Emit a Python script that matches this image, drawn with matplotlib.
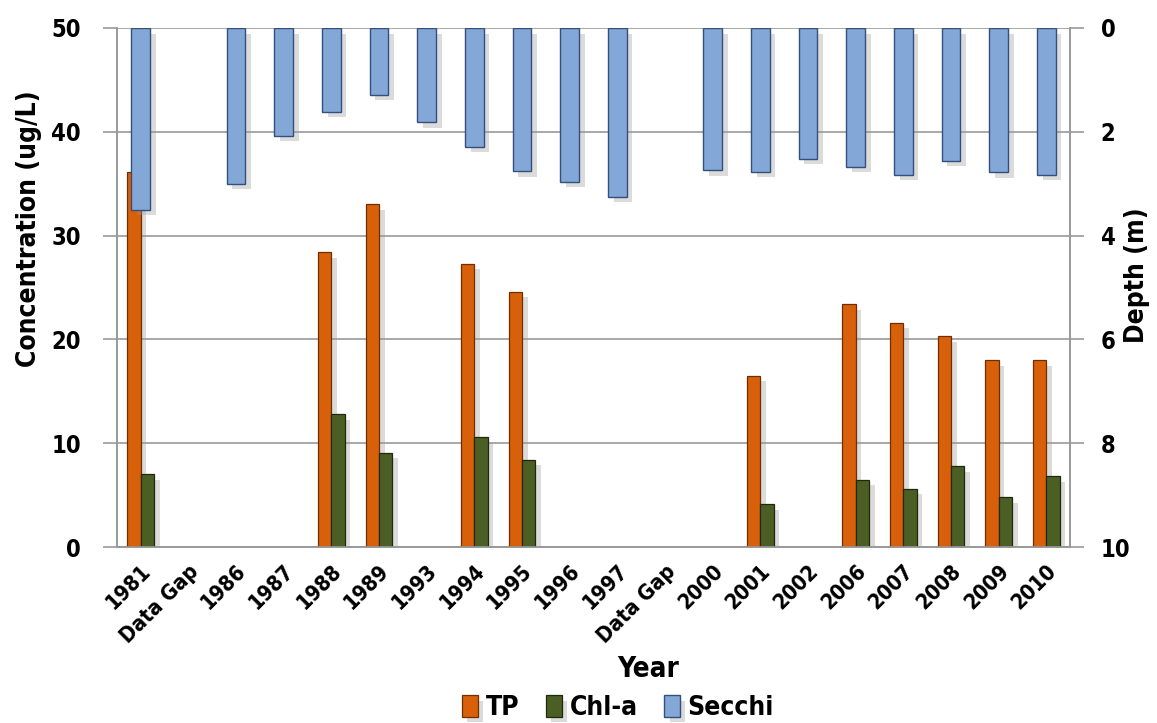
import numpy as np
import matplotlib
matplotlib.use('Agg')
import matplotlib.pyplot as plt
import matplotlib.patheffects as pe

plt.rcParams['font.family'] = ['DejaVu Sans']
plt.rcParams['font.stretch'] = 'condensed'

years = ['1981', 'Data Gap', '1986', '1987', '1988', '1989', '1993', '1994',
         '1995', '1996', '1997', 'Data Gap', '2000', '2001', '2002', '2006',
         '2007', '2008', '2009', '2010']
# concentrations in ug/L (nan = not sampled)
tp = [36.1, np.nan, np.nan, np.nan, 28.4, 33.0, np.nan, 27.3, 24.6, np.nan,
      np.nan, np.nan, np.nan, 16.5, np.nan, 23.4, 21.6, 20.3, 18.0, 18.0]
chla = [7.0, np.nan, np.nan, np.nan, 12.8, 9.1, np.nan, 10.6, 8.4, np.nan,
        np.nan, np.nan, np.nan, 4.1, np.nan, 6.5, 5.6, 7.8, 4.8, 6.8]
# secchi depth in m
secchi = [3.5, np.nan, 3.0, 2.08, 1.61, 1.29, 1.82, 2.29, 2.76, 2.96, 3.25,
          np.nan, 2.74, 2.77, 2.52, 2.67, 2.83, 2.56, 2.78, 2.83]

x = np.arange(len(years))
shadow = [pe.SimplePatchShadow(offset=(4, -4), shadow_rgbFace='#999999', alpha=0.35), pe.Normal()]

fig = plt.figure(figsize=(11.57, 7.23), dpi=100)
ax = fig.add_axes([0.101, 0.2434, 0.824, 0.7179])
ax2 = ax.twinx()

w = 0.28
b1 = ax.bar(x - w / 2, tp, w, color='#D9600A', edgecolor='#6E2E00', linewidth=0.9, label='TP', zorder=3)
b2 = ax.bar(x + w / 2, chla, w, color='#4B5F24', edgecolor='#1F280C', linewidth=0.9, label='Chl-a', zorder=3)
b3 = ax2.bar(x, secchi, 0.39, color='#83A8D8', edgecolor='#34507A', linewidth=1.0, label='Secchi', zorder=3)
for bars in (b1, b2, b3):
    for p in bars:
        p.set_path_effects(shadow)

ax.set_xlim(-0.5, len(years) - 0.5)
ax.set_ylim(0, 50)
ax.set_yticks(range(0, 51, 10))
ax2.set_ylim(10, 0)
ax2.set_yticks(range(0, 11, 2))

ax.yaxis.grid(True, color='#999999', linewidth=1.2, zorder=0)
ax.set_axisbelow(True)

ax.set_xticks(x)
ax.set_xticklabels(years, rotation=45, ha='right', rotation_mode='anchor',
                   fontsize=15.5, fontweight='bold')
ax.tick_params(axis='x', length=0, pad=10)
ax.tick_params(axis='y', labelsize=17, length=10, color='#999999', width=1.2, pad=16)
ax2.tick_params(axis='y', labelsize=17, length=10, color='#999999', width=1.2, pad=12)
for t in ax.get_yticklabels() + ax2.get_yticklabels():
    t.set_fontweight('bold')

for a in (ax, ax2):
    a.spines['top'].set_visible(False)
    for s in ('left', 'right', 'bottom'):
        a.spines[s].set_color('#999999')
        a.spines[s].set_linewidth(1.2)

ax.set_ylabel('Concentration (ug/L)', fontsize=19, fontweight='bold')
ax.yaxis.set_label_coords(-0.078, 0.613)
ax2.set_ylabel('Depth (m)', fontsize=19, fontweight='bold')
ax2.yaxis.set_label_coords(1.056, 0.524)
ax.set_xlabel('Year', fontsize=20, fontweight='bold')
ax.xaxis.set_label_coords(0.557, -0.208)

fig.legend(handles=[b1, b2, b3], labels=['TP', 'Chl-a', 'Secchi'], loc='center',
           bbox_to_anchor=(618 / 1157, 1 - 708 / 723), ncol=3, frameon=False,
           handlelength=0.6, handleheight=0.9, handletextpad=0.3, columnspacing=1.0,
           prop={'size': 19, 'weight': 'bold', 'stretch': 'condensed'})

fig.savefig('out.png', dpi=100)
